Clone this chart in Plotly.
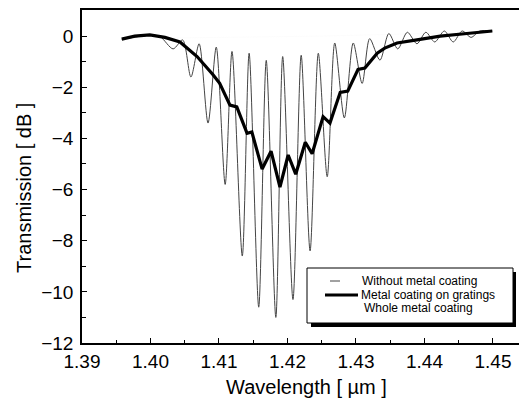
import plotly.graph_objects as go

# Without metal coating (thin line): wavelength [um], transmission [dB]
wl_bare = [1.3958, 1.3975, 1.3999, 1.4014, 1.4033, 1.4047, 1.4059, 1.4071, 1.4084, 1.4096,
           1.4109, 1.4119, 1.4134, 1.4144, 1.4158, 1.4169, 1.4183, 1.4193, 1.4208, 1.4220,
           1.4233, 1.4245, 1.4258, 1.4269, 1.4283, 1.4296, 1.4309, 1.4320, 1.4335, 1.4348,
           1.4361, 1.4375, 1.4389, 1.4402, 1.4415, 1.4429, 1.4442, 1.4455, 1.4468, 1.4481, 1.4499]
t_bare = [-0.12, -0.05, 0.04, -0.02, -0.5, -0.15, -1.6, -0.3, -3.4, -0.43,
          -5.8, -0.6, -8.6, -0.67, -10.6, -0.95, -11.0, -0.8, -10.3, -0.75,
          -8.4, -0.67, -5.5, -0.27, -3.2, -0.27, -1.85, -0.1, -0.94, 0.1,
          -0.5, 0.15, -0.3, 0.15, -0.23, 0.2, -0.23, 0.2, -0.05, 0.2, 0.2]

# Metal coating on gratings (thick line)
wl_grat = [1.3958, 1.3977, 1.3999, 1.4021, 1.4043, 1.4068, 1.4091, 1.4101, 1.4116, 1.4126,
           1.4141, 1.4148, 1.4163, 1.4176, 1.4189, 1.4201, 1.4212, 1.4226, 1.4236, 1.4252,
           1.4262, 1.4277, 1.4288, 1.4303, 1.4313, 1.4331, 1.4342, 1.4360, 1.4389, 1.4423,
           1.4462, 1.4499]
t_grat = [-0.12, 0.0, 0.05, -0.05, -0.23, -0.8, -1.5, -1.85, -2.7, -2.77,
          -3.8, -3.75, -5.2, -4.5, -5.9, -4.65, -5.4, -4.15, -4.6, -3.15,
          -3.4, -2.2, -2.15, -1.3, -1.25, -0.67, -0.47, -0.27, -0.15, 0.0,
          0.1, 0.2]

# Whole metal coating (faint, nearly flat)
wl_whole = [1.3958, 1.4100, 1.4250, 1.4400, 1.4499]
t_whole = [-0.1, -0.05, 0.0, 0.1, 0.2]

series_names = ["Without metal coating", "Metal coating on gratings", "Whole metal coating"]
x_ticks = [1.39, 1.40, 1.41, 1.42, 1.43, 1.44, 1.45]
x_ticklabels = ["1.39", "1.40", "1.41", "1.42", "1.43", "1.44", "1.45"]
y_ticks = [0, -2, -4, -6, -8, -10, -12]
x_title = "Wavelength [ µm ]"
y_title = "Transmission [ dB ]"

FONT = "Liberation Sans, Arial, sans-serif"

fig = go.Figure()
fig.add_trace(go.Scatter(x=wl_whole, y=t_whole, mode="lines", name=series_names[2],
                         line=dict(color="rgba(230,230,230,0.12)", width=1)))
fig.add_trace(go.Scatter(x=wl_bare, y=t_bare, mode="lines", name=series_names[0],
                         line=dict(color="#444444", width=1, shape="spline", smoothing=0.8)))
fig.add_trace(go.Scatter(x=wl_grat, y=t_grat, mode="lines", name=series_names[1],
                         line=dict(color="black", width=3.2)))

# pixel -> paper helpers (plot area: x 82..519, y 10..343)
def px(v):
    return (v - 82) / 437.0

def py(v):
    return (343 - v) / 333.0

shapes = [
    # legend shadow and box
    dict(type="rect", xref="paper", yref="paper", x0=px(311), x1=px(516), y0=py(327), y1=py(272),
         fillcolor="black", line=dict(width=0), layer="above"),
    dict(type="rect", xref="paper", yref="paper", x0=px(307), x1=px(513), y0=py(323), y1=py(268),
         fillcolor="white", line=dict(color="black", width=1), layer="above"),
    # legend samples
    dict(type="line", xref="paper", yref="paper", x0=px(330), x1=px(340), y0=py(281), y1=py(281),
         line=dict(color="#444444", width=1), layer="above"),
    dict(type="line", xref="paper", yref="paper", x0=px(325), x1=px(358), y0=py(295), y1=py(295),
         line=dict(color="black", width=3), layer="above"),
]

legend_rows = [(360, 281), (359, 295), (362, 308)]
annotations = []
for name, (lx, ly) in zip(series_names, legend_rows):
    annotations.append(dict(text=name, xref="paper", yref="paper", x=px(lx), y=py(ly),
                            xanchor="left", yanchor="middle", showarrow=False,
                            font=dict(family=FONT, size=12, color="black")))
annotations.append(dict(text=x_title, xref="paper", yref="paper", x=px(306), y=py(387),
                        xanchor="center", yanchor="middle", showarrow=False,
                        font=dict(family=FONT, size=20, color="black")))
annotations.append(dict(text=y_title, xref="paper", yref="paper", x=px(24), y=py(188),
                        xanchor="center", yanchor="middle", showarrow=False, textangle=-90,
                        font=dict(family=FONT, size=20, color="black")))

fig.update_layout(
    width=521, height=408,
    margin=dict(l=82, r=2, t=10, b=65),
    paper_bgcolor="white", plot_bgcolor="white",
    font=dict(family=FONT, color="black", size=16),
    shapes=shapes,
    annotations=annotations,
    showlegend=False,
    xaxis=dict(range=[1.39, 1.4538], tickvals=x_ticks, ticktext=x_ticklabels,
               ticks="inside", ticklen=5, tickwidth=1.2, tickcolor="black",
               minor=dict(dtick=0.005, tick0=1.39, ticks="inside", ticklen=3, tickcolor="black"),
               showline=True, linecolor="black", linewidth=1.5, mirror=True,
               showgrid=False, zeroline=False, automargin=False,
               tickfont=dict(size=19)),
    yaxis=dict(range=[-12, 1.02], tickvals=y_ticks,
               ticks="inside", ticklen=5, tickwidth=1.2, tickcolor="black",
               minor=dict(dtick=1, ticks="inside", ticklen=4, tickcolor="black"),
               showline=True, linecolor="black", linewidth=1.5,
               showgrid=False, zeroline=False, automargin=False,
               ticklabelstandoff=3,
               tickfont=dict(size=19)),
)

fig.write_html("out.html", config={"displayModeBar": False},
               post_script="document.body.style.margin='0';document.body.style.overflow='hidden';")
